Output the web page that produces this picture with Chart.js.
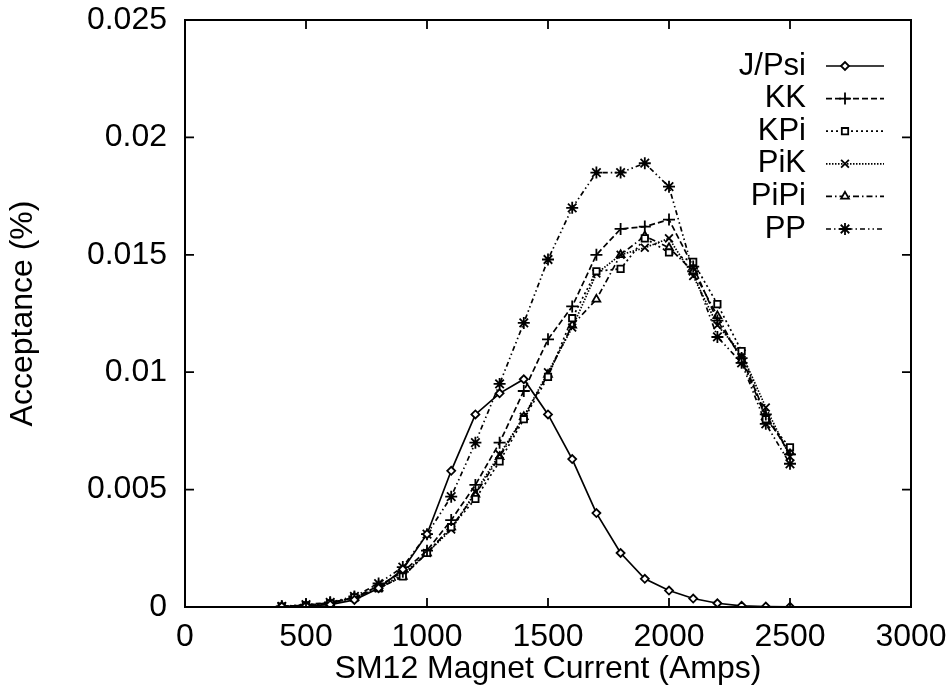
<!DOCTYPE html>
<html>
<head>
<meta charset="utf-8">
<script src="https://cdn.jsdelivr.net/npm/chart.js@4/dist/chart.umd.min.js"></script>
<style>
  html, body { margin: 0; padding: 0; background: #fff; }
  #wrap { width: 950px; height: 690px; }
</style>
</head>
<body>
<div id="wrap"><canvas id="chart" width="950" height="690"></canvas></div>
<script>
// magnet current (Amps) for each run
const currents = [400, 500, 600, 700, 800, 900, 1000, 1100, 1200, 1300, 1400, 1500, 1600, 1700, 1800, 1900, 2000, 2100, 2200, 2300, 2400, 2500];

// acceptance (%) per channel
const jpsi = [0.00002, 0.00005, 0.0001, 0.0003, 0.0008, 0.0016, 0.0031, 0.0058, 0.0082, 0.0091, 0.0097, 0.0082, 0.0063, 0.0040, 0.0023, 0.0012, 0.0007, 0.00036, 0.00016, 0.00005, 0.00002, 0.00001];
const kk = [0.00002, 0.00008, 0.00018, 0.0004, 0.0009, 0.0015, 0.0024, 0.0037, 0.0052, 0.0070, 0.0092, 0.0114, 0.0128, 0.0150, 0.0161, 0.0162, 0.0165, 0.0145, 0.0122, 0.0106, 0.0082, 0.0065];
const kpi = [0.00002, 0.00007, 0.00016, 0.0004, 0.0008, 0.0013, 0.0023, 0.0034, 0.0046, 0.0062, 0.0080, 0.0098, 0.0123, 0.0143, 0.0144, 0.0157, 0.0151, 0.0147, 0.0129, 0.0109, 0.0080, 0.0068];
const pik = [0.00002, 0.00007, 0.00016, 0.0004, 0.0008, 0.0014, 0.0023, 0.0033, 0.0049, 0.0065, 0.0081, 0.0100, 0.0119, 0.0142, 0.0150, 0.0153, 0.0157, 0.0141, 0.0120, 0.0108, 0.0085, 0.0064];
const pipi = [0.00002, 0.00007, 0.00016, 0.0004, 0.0008, 0.0013, 0.0023, 0.0034, 0.0048, 0.0064, 0.0081, 0.0099, 0.0120, 0.0131, 0.0150, 0.0158, 0.0153, 0.0143, 0.0124, 0.0105, 0.0081, 0.0066];
const pp = [0.00003, 0.0001, 0.0002, 0.00045, 0.0010, 0.0017, 0.0031, 0.0047, 0.0070, 0.0095, 0.0121, 0.0148, 0.0170, 0.0185, 0.0185, 0.0189, 0.0179, 0.0143, 0.0115, 0.0104, 0.0078, 0.0061];

const seriesNames = ['J/Psi', 'KK', 'KPi', 'PiK', 'PiPi', 'PP'];
const xTickValues = [0, 500, 1000, 1500, 2000, 2500, 3000];
const yTickValues = [0, 0.005, 0.01, 0.015, 0.02, 0.025];
const yTickLabels = ['0', '0.005', '0.01', '0.015', '0.02', '0.025'];

const FONT = 'Liberation Sans, Arial, Helvetica, sans-serif';
const toPoints = (ys) => ys.map((y, i) => ({ x: currents[i], y }));

const styles = [
  { pointStyle: 'rectRot', radius: 4, dash: [], fill: '#fff' },
  { pointStyle: 'cross', radius: 6, dash: [6, 3], fill: '#000' },
  { pointStyle: 'rect', radius: 4.5, dash: [2, 3], fill: '#fff' },
  { pointStyle: 'crossRot', radius: 5.5, dash: [1.5, 1.5], fill: '#000' },
  { pointStyle: 'triangle', radius: 4.5, dash: [6, 3, 1.5, 3], fill: '#fff' },
  { pointStyle: 'star', radius: 6, dash: [5, 3, 1.5, 3, 1.5, 3], fill: '#000' }
];

const datasets = [jpsi, kk, kpi, pik, pipi, pp].map((values, i) => ({
  label: seriesNames[i],
  data: toPoints(values),
  borderColor: '#000',
  borderWidth: 1.7,
  borderDash: styles[i].dash,
  pointStyle: styles[i].pointStyle,
  pointRadius: styles[i].radius,
  pointBorderColor: '#000',
  pointBackgroundColor: styles[i].fill,
  pointBorderWidth: 1.8,
  tension: 0,
  fill: false
}));

// box around plot with inward ticks on all four sides
const framePlugin = {
  id: 'frame',
  afterDatasetsDraw(chart) {
    const { ctx, chartArea: a, scales } = chart;
    ctx.save();
    ctx.strokeStyle = '#000';
    ctx.lineWidth = 2;
    ctx.setLineDash([]);
    ctx.strokeRect(a.left, a.top, a.right - a.left, a.bottom - a.top);
    ctx.lineWidth = 1.8;
    const len = 9;
    ctx.beginPath();
    xTickValues.forEach((v) => {
      const px = scales.x.getPixelForValue(v);
      ctx.moveTo(px, a.bottom); ctx.lineTo(px, a.bottom - len);
      ctx.moveTo(px, a.top); ctx.lineTo(px, a.top + len);
    });
    yTickValues.forEach((v) => {
      const py = scales.y.getPixelForValue(v);
      ctx.moveTo(a.left, py); ctx.lineTo(a.left + len, py);
      ctx.moveTo(a.right, py); ctx.lineTo(a.right - len, py);
    });
    ctx.stroke();
    ctx.restore();
  }
};

// gnuplot-style key: label right-aligned, then line sample with marker
const keyPlugin = {
  id: 'key',
  afterDraw(chart) {
    const { ctx } = chart;
    ctx.save();
    ctx.font = `31px ${FONT}`;
    ctx.textAlign = 'right';
    ctx.textBaseline = 'middle';
    chart.data.datasets.forEach((ds, i) => {
      const y = 66 + i * 32.6;
      ctx.fillStyle = '#000';
      ctx.fillText(ds.label, 806, y);
      ctx.strokeStyle = '#000';
      ctx.lineWidth = 1.7;
      ctx.setLineDash(ds.borderDash);
      ctx.beginPath();
      ctx.moveTo(826, y);
      ctx.lineTo(884, y);
      ctx.stroke();
      ctx.setLineDash([]);
      ctx.fillStyle = ds.pointBackgroundColor;
      ctx.lineWidth = ds.pointBorderWidth;
      Chart.helpers.drawPoint(ctx, { pointStyle: ds.pointStyle, radius: ds.pointRadius, rotation: 0, borderWidth: ds.pointBorderWidth }, 845, y);
    });
    ctx.restore();
  }
};

new Chart(document.getElementById('chart'), {
  type: 'line',
  data: { datasets },
  options: {
    responsive: false,
    devicePixelRatio: 1,
    animation: false,
    layout: { padding: { top: 20, right: 39, left: 0, bottom: 0 } },
    plugins: { legend: { display: false }, tooltip: { enabled: false } },
    scales: {
      x: {
        type: 'linear',
        min: 0,
        max: 3000,
        afterFit: (scale) => {
          scale.height = 83;
          scale.paddingLeft = 0;
          scale.paddingRight = 0;
        },
        afterBuildTicks: (scale) => { scale.ticks = xTickValues.map((v) => ({ value: v })); },
        grid: { display: false, drawTicks: false },
        border: { display: false },
        ticks: {
          padding: 11,
          color: '#000',
          font: { family: FONT, size: 32 },
          maxRotation: 0,
          callback: (v) => String(v)
        },
        title: {
          display: true,
          text: 'SM12 Magnet Current (Amps)',
          color: '#000',
          font: { family: FONT, size: 32 },
          padding: { top: 0, bottom: 2 }
        }
      },
      y: {
        min: 0,
        max: 0.025,
        afterFit: (scale) => {
          scale.width = 185;
          scale.paddingTop = 0;
          scale.paddingBottom = 0;
        },
        afterBuildTicks: (scale) => { scale.ticks = yTickValues.map((v) => ({ value: v })); },
        grid: { display: false, drawTicks: false },
        border: { display: false },
        ticks: {
          padding: 18,
          color: '#000',
          font: { family: FONT, size: 32 },
          callback: (v) => yTickLabels[yTickValues.findIndex((t) => Math.abs(t - v) < 1e-9)]
        },
        title: {
          display: true,
          text: 'Acceptance (%)',
          color: '#000',
          font: { family: FONT, size: 32 },
          padding: { top: 4, bottom: 0 }
        }
      }
    }
  },
  plugins: [framePlugin, keyPlugin]
});
</script>
</body>
</html>
